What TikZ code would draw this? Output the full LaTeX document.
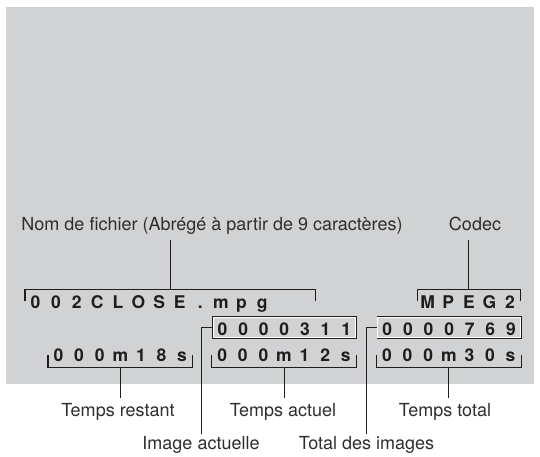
\documentclass[tikz,border=0pt]{standalone}
\usepackage{fontspec}
\setmainfont{TeX Gyre Heros}
\usetikzlibrary{positioning,calc}
\definecolor{ScreenGray}{HTML}{D1D2D4}
\definecolor{LcdInk}{HTML}{1E1E1E}
\definecolor{CalloutInk}{HTML}{2E2E2E}
\newcommand{\lcdcells}[1]{\foreach \lcdch in {#1}{\makebox[20.6pt]{\lcdch}}}
\tikzset{
  screen/.style={fill=ScreenGray},
  lcd/.style={anchor=base west, inner xsep=0pt, inner ysep=3pt,
    text height=15pt, text depth=0pt, text=LcdInk,
    font=\fontsize{17.5}{19}\selectfont\bfseries},
  lcdframe/.style={lcd, draw=LcdInk, line width=1.1pt},
  lcdinset/.style={draw=white, line width=0.9pt},
  bracket/.style={draw=LcdInk, line width=1.1pt},
  leader/.style={draw=LcdInk, line width=1pt},
  callout/.style={anchor=base, inner sep=2pt, text height=13pt,
    text depth=4pt, text=CalloutInk, font=\fontsize{18}{20}\selectfont}
}

\begin{document}
\begin{tikzpicture}[x=1pt, y=1pt]
  \useasboundingbox (0,0) rectangle (540,456);
  \fill[screen] (6,72) rectangle (534,449);

  % readout on the screen
  \node[lcd] (fname) at (25,148) {\makebox[290pt][l]{\lcdcells{0,0,2,C,L,O,S,E,.,m,p,g}}};
  \node[lcd] (codec) at (417.2,148) {\lcdcells{M,P,E,G,2}};
  \node[lcdframe] (curimg) at (211.7,121) {\lcdcells{0,0,0,0,3,1,1}};
  \node[lcdframe] (totimg) at (376.5,121) {\lcdcells{0,0,0,0,7,6,9}};
  \node[lcd] (remain) at (48,95) {\lcdcells{0,0,0,m,1,8,s}};
  \node[lcd] (elapsed) at (211.7,95) {\lcdcells{0,0,0,m,1,2,s}};
  \node[lcd] (total) at (376.5,95) {\lcdcells{0,0,0,m,3,0,s}};

  \draw[lcdinset] ([shift={(1.4,1.4)}]curimg.south west) rectangle ([shift={(-1.4,-1.4)}]curimg.north east);
  \draw[lcdinset] ([shift={(1.4,1.4)}]totimg.south west) rectangle ([shift={(-1.4,-1.4)}]totimg.north east);

  % callouts
  \node[callout, inner ysep=5pt] (namelab) at (212,225.3)
    {Nom de fichier (Abrégé à partir de 9 caractères)};
  \node[callout, inner ysep=5pt] (codeclab) at (475,225.3) {Codec};
  \node[callout, inner ysep=6pt] (remainlab) at (118,39.3) {Temps restant};
  \node[callout, inner ysep=6pt] (elapsedlab) at (283,39.3) {Temps actuel};
  \node[callout, inner ysep=6pt] (totallab) at (445,39.3) {Temps total};
  \node[callout] (curimglab) at (201,7) {Image actuelle};
  \node[callout] (totimglab) at (366.5,7) {Total des images};

  % brackets
  \draw[bracket] ([yshift=-11pt]fname.north west) |- (fname.north) -| ([yshift=-11pt]fname.north east);
  \draw[bracket] ([yshift=-11pt]codec.north west) |- (codec.north) -| ([yshift=-11pt]codec.north east);
  \draw[bracket] ([yshift=9pt]remain.south west) |- ([yshift=-3pt]remain.south) -| ([yshift=9pt]remain.south east);
  \draw[bracket] ([yshift=9pt]elapsed.south west) |- ([yshift=-3pt]elapsed.south) -| ([yshift=9pt]elapsed.south east);
  \draw[bracket] ([yshift=9pt]total.south west) |- ([yshift=-3pt]total.south) -| ([yshift=9pt]total.south east);

  % leaders
  \draw[leader] (fname.north |- namelab.south) -- (fname.north);
  \draw[leader] (codec.north |- codeclab.south) -- (codec.north);
  \draw[leader] ([yshift=-3pt]remain.south) -- (remain.south |- remainlab.north);
  \draw[leader] ([yshift=-3pt]elapsed.south) -- (elapsed.south |- elapsedlab.north);
  \draw[leader] ([yshift=-3pt]total.south) -- (total.south |- totallab.north);
  \draw[leader] (curimg.west) -| (curimglab.north);
  \draw[leader] (totimg.west) -| (totimglab.north);
\end{tikzpicture}
\end{document}
